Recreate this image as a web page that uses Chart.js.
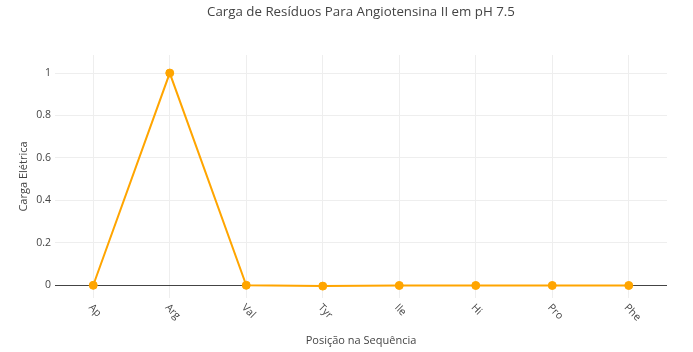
<!DOCTYPE html>
<html>
<head>
<meta charset="utf-8">
<script src="https://cdn.jsdelivr.net/npm/chart.js@4"></script>
<style>
  html, body { margin: 0; padding: 0; background: #fff; }
  #wrap { width: 693px; height: 352px; position: relative; }
</style>
</head>
<body>
<div id="wrap"><canvas id="c"></canvas></div>
<script>
// residuos da angiotensina II e carga em pH 7.5
const residuos = ["Ap", "Arg", "Val", "Tyr", "Ile", "Hi", "Pro", "Phe"];
const cargas = [0, 1, 0, -0.004, -0.001, -0.001, -0.001, -0.001];
const yTicks = [0, 0.2, 0.4, 0.6, 0.8, 1];

const titulo = "Carga de Resíduos Para Angiotensina II em pH 7.5";
const tituloX = "Posição na Sequência";
const tituloY = "Carga Elétrica";

const FONTE = "'Open Sans', 'Noto Sans', sans-serif";
const COR_TEXTO = "#444";

// desenha titulos e rotulos do eixo x (girados a +45 graus)
const textos = {
  id: "textos",
  afterDraw(chart) {
    const ctx = chart.ctx;
    const area = chart.chartArea;
    const xs = chart.scales.x;
    ctx.save();
    ctx.fillStyle = COR_TEXTO;

    ctx.font = "13.3px " + FONTE;
    ctx.textAlign = "center";
    ctx.textBaseline = "middle";
    ctx.fillText(titulo, 361, 12);

    ctx.font = "11px " + FONTE;
    ctx.fillText(tituloX, (area.left + area.right) / 2, 341);

    ctx.save();
    ctx.translate(24, (area.top + area.bottom) / 2);
    ctx.rotate(-Math.PI / 2);
    ctx.fillText(tituloY, 0, 0);
    ctx.restore();

    ctx.font = "10.5px " + FONTE;
    ctx.textAlign = "left";
    residuos.forEach((r, i) => {
      const x = xs.getPixelForTick(i);
      ctx.save();
      ctx.translate(x - 3, area.bottom + 8);
      ctx.rotate(Math.PI / 4);
      ctx.fillText(r, 0, 0);
      ctx.restore();
    });
    ctx.restore();
  }
};

new Chart(document.getElementById("c"), {
  type: "line",
  data: {
    labels: residuos,
    datasets: [{
      data: cargas,
      borderColor: "#FFA500",
      backgroundColor: "#FFA500",
      pointBackgroundColor: "#FFA500",
      pointBorderColor: "#FFA500",
      pointRadius: 4,
      pointBorderWidth: 1,
      pointHoverRadius: 4,
      borderWidth: 2,
      tension: 0,
      fill: false
    }]
  },
  options: {
    responsive: true,
    maintainAspectRatio: false,
    animation: false,
    layout: { padding: { top: 55, right: 26, left: 0, bottom: 0 } },
    plugins: {
      legend: { display: false },
      title: { display: false },
      tooltip: { enabled: false }
    },
    scales: {
      x: {
        offset: true,
        grid: { offset: false, color: "#eee", drawTicks: false },
        border: { display: false },
        ticks: { display: false },
        afterFit(s) { s.height = 54; }
      },
      y: {
        min: -0.06,
        max: 1.085,
        afterBuildTicks(s) { s.ticks = yTicks.map(v => ({ value: v })); },
        grid: {
          drawTicks: false,
          color: (c) => (c.tick && c.tick.value === 0 ? "#444" : "#eee")
        },
        border: { display: false },
        ticks: {
          padding: 4,
          color: COR_TEXTO,
          font: { family: FONTE, size: 10.5 },
          callback: (v) => String(v)
        },
        afterFit(s) { s.width = 55; }
      }
    }
  },
  plugins: [textos]
});
</script>
</body>
</html>
